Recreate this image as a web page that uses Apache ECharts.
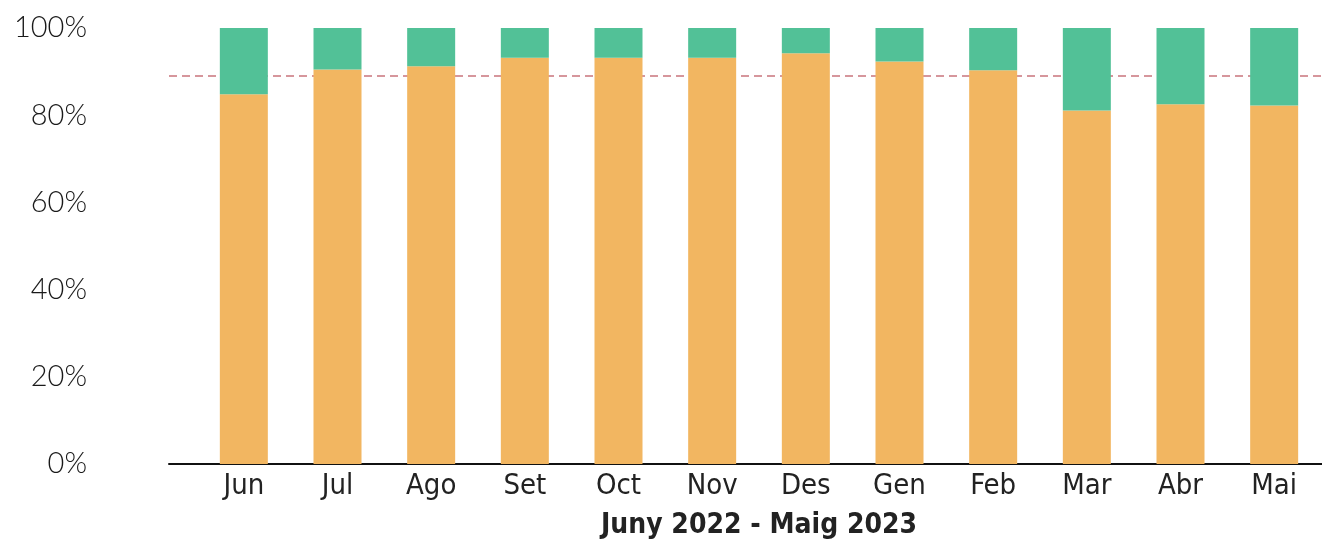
<!DOCTYPE html>
<html>
<head>
<meta charset="utf-8">
<script src="https://cdn.jsdelivr.net/npm/echarts@6/dist/echarts.min.js"></script>
<style>
html,body{margin:0;padding:0;background:#fff;}
#chart{width:1322px;height:549px;}
</style>
</head>
<body>
<div id="chart"></div>
<script>
// Data
const categories = ['Jun','Jul','Ago','Set','Oct','Nov','Des','Gen','Feb','Mar','Abr','Mai'];
const orangeValues = [84.8, 90.5, 91.2, 93.2, 93.2, 93.2, 94.2, 92.3, 90.3, 81.1, 82.5, 82.2];
const greenValues = [15.2, 9.5, 8.8, 6.8, 6.8, 6.8, 5.8, 7.7, 9.7, 18.9, 17.5, 17.8];
const referenceValue = 89.0;
const yTicks = [0, 20, 40, 60, 80, 100];
const axisTitle = 'Juny 2022 - Maig 2023';

const chart = echarts.init(document.getElementById('chart'));
const option = {
  animation: false,
  backgroundColor: '#ffffff',
  grid: [
    { left: 197, right: 1, top: 28, bottom: 85 },
    { left: 169, right: 0, top: 28, bottom: 85 }
  ],
  xAxis: [
    {
      type: 'category', gridIndex: 0, data: categories,
      axisLine: { show: false }, axisTick: { show: false },
      axisLabel: { color: '#222', fontFamily: 'DejaVu Sans Condensed', fontSize: 29, margin: 8 },
      name: axisTitle, nameLocation: 'middle', nameGap: 48,
      nameTextStyle: { color: '#222', fontFamily: 'DejaVu Sans Condensed', fontWeight: 'bold', fontSize: 28 }
    },
    {
      type: 'value', gridIndex: 1, min: 0, max: 1,
      axisLine: { show: true, lineStyle: { color: '#111', width: 2 } },
      axisTick: { show: false }, axisLabel: { show: false }, splitLine: { show: false }
    }
  ],
  yAxis: [
    {
      type: 'value', gridIndex: 0, min: yTicks[0], max: yTicks[yTicks.length - 1], interval: 20,
      axisLine: { show: false }, axisTick: { show: false }, splitLine: { show: false },
      axisLabel: { color: '#1a1a1a', fontFamily: 'Lato', fontWeight: 300, fontSize: 29, margin: 110,
        formatter: v => v + '%' }
    },
    {
      type: 'value', gridIndex: 1, min: 0, max: 100, show: false
    }
  ],
  series: [
    {
      type: 'line', xAxisIndex: 1, yAxisIndex: 1, z: 1, silent: true,
      symbol: 'none',
      data: [[0, referenceValue], [1, referenceValue]],
      lineStyle: { color: '#c9747c', width: 1.5, type: [8, 5] }
    },
    {
      type: 'bar', stack: 'total', xAxisIndex: 0, yAxisIndex: 0, z: 3,
      barWidth: 48, data: orangeValues,
      itemStyle: { color: '#F2B661' }
    },
    {
      type: 'bar', stack: 'total', xAxisIndex: 0, yAxisIndex: 0, z: 3,
      barWidth: 48, data: greenValues,
      itemStyle: { color: '#52C197' }
    }
  ]
};
chart.setOption(option);
</script>
</body>
</html>
